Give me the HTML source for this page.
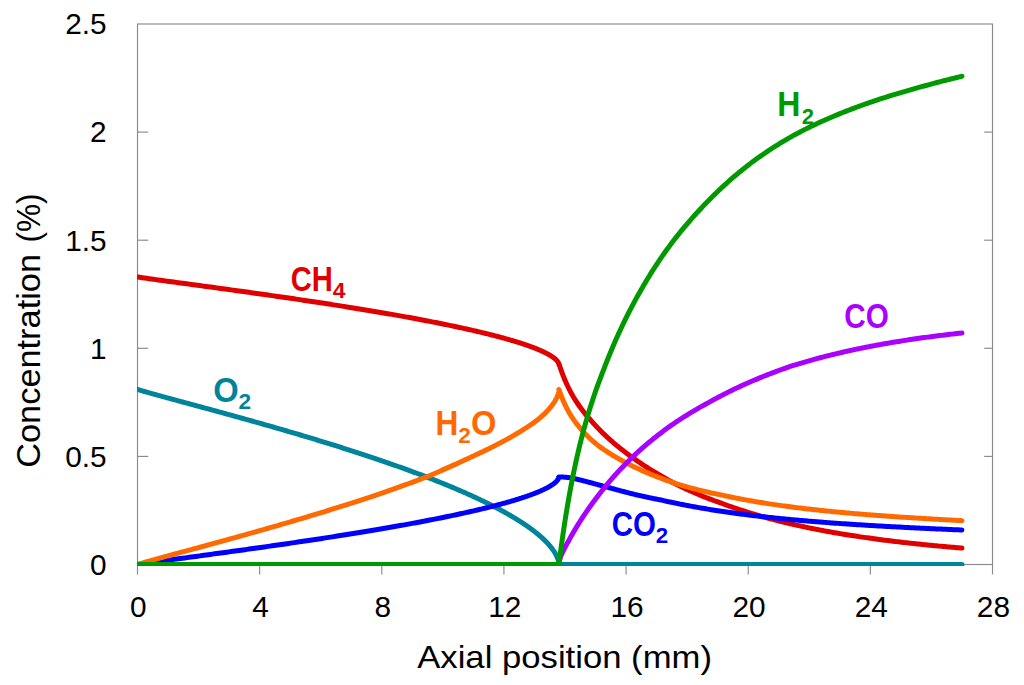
<!DOCTYPE html>
<html><head><meta charset="utf-8"><title>Concentration vs axial position</title>
<style>
html,body{margin:0;padding:0;background:#fff;}
body{width:1024px;height:685px;overflow:hidden;}
svg{display:block;}
text{font-family:"Liberation Sans",sans-serif;}
.tk{font-size:29.80px;fill:#000;}
.tt{font-size:31.30px;fill:#000;}
.ty{font-size:33.6px;fill:#000;}
.lb{font-size:30.70px;font-weight:bold;}
.sub{font-size:20.26px;font-weight:bold;}
</style></head><body>
<svg width="1024" height="685" viewBox="0 0 1024 685">
<rect width="1024" height="685" fill="#fff"/>

<g stroke="#8a8a8a" stroke-width="1.15" fill="none" shape-rendering="auto">
<rect x="137.5" y="24" width="855" height="540.5"/>
<line x1="137.50" y1="564.5" x2="137.50" y2="574.5"/>
<line x1="259.64" y1="564.5" x2="259.64" y2="574.5"/>
<line x1="381.79" y1="564.5" x2="381.79" y2="574.5"/>
<line x1="503.93" y1="564.5" x2="503.93" y2="574.5"/>
<line x1="626.08" y1="564.5" x2="626.08" y2="574.5"/>
<line x1="748.22" y1="564.5" x2="748.22" y2="574.5"/>
<line x1="870.36" y1="564.5" x2="870.36" y2="574.5"/>
<line x1="992.51" y1="564.5" x2="992.51" y2="574.5"/>
<line x1="137.5" y1="456.40" x2="148.2" y2="456.40"/>
<line x1="984.2" y1="456.40" x2="992.5" y2="456.40"/>
<line x1="137.5" y1="348.30" x2="148.2" y2="348.30"/>
<line x1="984.2" y1="348.30" x2="992.5" y2="348.30"/>
<line x1="137.5" y1="240.20" x2="148.2" y2="240.20"/>
<line x1="984.2" y1="240.20" x2="992.5" y2="240.20"/>
<line x1="137.5" y1="132.10" x2="148.2" y2="132.10"/>
<line x1="984.2" y1="132.10" x2="992.5" y2="132.10"/>
</g>
<defs><clipPath id="cp"><rect x="137" y="0" width="880" height="566"/></clipPath></defs>
<g fill="none" stroke-width="5" stroke-linecap="round" stroke-linejoin="round" clip-path="url(#cp)">
<path d="M137.50,276.95 L139.82,277.33 L142.13,277.68 L144.44,278.01 L146.74,278.34 L149.03,278.67 L151.32,278.99 L153.59,279.30 L155.86,279.62 L158.13,279.93 L160.39,280.24 L162.64,280.55 L164.88,280.86 L167.12,281.16 L169.35,281.46 L171.57,281.77 L173.78,282.07 L175.99,282.37 L178.19,282.66 L180.39,282.96 L182.58,283.26 L184.76,283.55 L186.93,283.85 L189.10,284.14 L191.26,284.43 L193.41,284.72 L195.56,285.02 L197.70,285.31 L199.83,285.59 L201.96,285.88 L204.08,286.17 L206.19,286.46 L208.29,286.74 L210.39,287.03 L212.48,287.32 L214.57,287.60 L216.65,287.88 L218.72,288.17 L220.78,288.45 L222.84,288.73 L224.89,289.01 L226.93,289.30 L228.97,289.58 L231.00,289.86 L233.02,290.14 L235.04,290.41 L237.05,290.69 L239.05,290.97 L241.04,291.25 L243.03,291.53 L245.01,291.80 L246.99,292.08 L248.96,292.35 L250.92,292.63 L252.87,292.90 L254.82,293.18 L256.76,293.45 L258.70,293.73 L260.63,294.00 L262.55,294.27 L264.46,294.54 L266.37,294.81 L268.27,295.09 L270.16,295.36 L272.05,295.63 L273.93,295.90 L275.80,296.17 L277.67,296.44 L279.53,296.70 L281.38,296.97 L283.23,297.24 L285.07,297.51 L286.90,297.78 L288.73,298.04 L290.55,298.31 L292.36,298.58 L294.17,298.84 L295.97,299.11 L297.76,299.37 L299.55,299.64 L301.33,299.90 L303.10,300.16 L304.87,300.43 L306.63,300.69 L308.38,300.95 L310.13,301.22 L311.87,301.48 L313.60,301.74 L315.33,302.00 L317.05,302.26 L318.76,302.52 L320.47,302.78 L322.17,303.04 L323.86,303.30 L325.55,303.56 L327.23,303.82 L328.90,304.08 L330.57,304.34 L332.23,304.60 L333.88,304.86 L335.53,305.11 L337.17,305.37 L338.80,305.63 L340.43,305.88 L342.05,306.14 L343.66,306.39 L345.27,306.65 L346.87,306.91 L348.46,307.16 L350.05,307.41 L351.63,307.67 L353.21,307.92 L354.77,308.18 L356.34,308.43 L357.89,308.68 L359.44,308.93 L360.98,309.19 L362.52,309.44 L364.04,309.69 L365.57,309.94 L367.08,310.19 L368.59,310.44 L370.09,310.69 L371.59,310.94 L373.08,311.19 L374.56,311.44 L376.04,311.69 L377.51,311.94 L378.98,312.19 L380.43,312.44 L381.88,312.68 L383.33,312.93 L384.77,313.18 L386.20,313.43 L387.62,313.67 L389.04,313.92 L390.45,314.16 L391.86,314.41 L393.26,314.65 L394.65,314.90 L396.04,315.14 L397.42,315.39 L398.79,315.63 L400.16,315.88 L401.52,316.12 L402.88,316.36 L404.22,316.61 L405.57,316.85 L406.90,317.09 L408.23,317.33 L409.55,317.57 L410.87,317.82 L412.18,318.06 L413.48,318.30 L414.78,318.54 L416.07,318.78 L417.36,319.02 L418.63,319.26 L419.91,319.49 L421.17,319.73 L422.43,319.97 L423.68,320.21 L424.93,320.45 L426.17,320.69 L427.40,320.92 L428.63,321.16 L429.85,321.40 L431.07,321.63 L432.28,321.87 L433.48,322.10 L434.68,322.34 L435.87,322.57 L437.05,322.81 L438.23,323.04 L439.40,323.28 L440.57,323.51 L441.73,323.74 L442.88,323.98 L444.02,324.21 L445.17,324.44 L446.30,324.67 L447.43,324.91 L448.55,325.14 L449.66,325.37 L450.77,325.60 L451.88,325.83 L452.97,326.06 L454.07,326.29 L455.15,326.52 L456.23,326.75 L457.30,326.98 L458.37,327.21 L459.43,327.43 L460.48,327.66 L461.53,327.89 L462.57,328.12 L463.61,328.34 L464.64,328.57 L465.66,328.80 L466.68,329.02 L467.69,329.25 L468.70,329.47 L469.69,329.70 L470.69,329.92 L471.67,330.15 L472.66,330.37 L473.63,330.60 L474.60,330.82 L475.56,331.04 L476.52,331.26 L477.47,331.49 L478.41,331.71 L479.35,331.93 L480.29,332.15 L481.21,332.37 L482.13,332.59 L483.05,332.81 L483.96,333.03 L484.86,333.25 L485.76,333.47 L486.65,333.69 L487.53,333.91 L488.41,334.13 L489.29,334.35 L490.15,334.56 L491.01,334.78 L491.87,335.00 L492.72,335.21 L493.56,335.43 L494.40,335.65 L495.23,335.86 L496.06,336.08 L496.88,336.29 L497.69,336.50 L498.50,336.72 L499.30,336.93 L500.10,337.15 L500.89,337.36 L501.67,337.57 L502.45,337.78 L503.23,337.99 L503.99,338.21 L504.76,338.42 L505.51,338.63 L506.26,338.84 L507.01,339.05 L507.74,339.26 L508.48,339.47 L509.20,339.67 L509.92,339.88 L510.64,340.09 L511.35,340.30 L512.05,340.51 L512.75,340.71 L513.44,340.92 L514.13,341.12 L514.81,341.33 L515.49,341.54 L516.16,341.74 L516.82,341.94 L517.48,342.15 L518.13,342.35 L518.78,342.56 L519.42,342.76 L520.06,342.96 L520.69,343.16 L521.31,343.36 L521.93,343.57 L522.54,343.77 L523.15,343.97 L523.75,344.17 L524.35,344.37 L524.94,344.57 L525.53,344.76 L526.11,344.96 L526.68,345.16 L527.25,345.36 L527.81,345.55 L528.37,345.75 L528.92,345.95 L529.47,346.14 L530.01,346.34 L530.55,346.53 L531.08,346.73 L531.60,346.92 L532.12,347.11 L532.64,347.31 L533.14,347.50 L533.65,347.69 L534.14,347.88 L534.64,348.07 L535.12,348.26 L535.61,348.45 L536.08,348.64 L536.55,348.83 L537.02,349.02 L537.48,349.21 L537.93,349.40 L538.38,349.58 L538.83,349.77 L539.27,349.96 L539.70,350.14 L540.13,350.33 L540.55,350.51 L540.97,350.70 L541.38,350.88 L541.79,351.06 L542.19,351.25 L542.59,351.43 L542.98,351.61 L543.37,351.79 L543.75,351.97 L544.12,352.15 L544.49,352.33 L544.86,352.51 L545.22,352.69 L545.58,352.87 L545.93,353.04 L546.27,353.22 L546.61,353.40 L546.95,353.57 L547.28,353.75 L547.60,353.92 L547.92,354.09 L548.24,354.27 L548.55,354.44 L548.85,354.61 L549.15,354.78 L549.45,354.95 L549.74,355.12 L550.02,355.29 L550.31,355.46 L550.58,355.63 L550.85,355.80 L551.12,355.96 L551.38,356.13 L551.63,356.29 L551.89,356.46 L552.13,356.62 L552.37,356.78 L552.61,356.95 L552.84,357.11 L553.07,357.27 L553.29,357.43 L553.51,357.59 L553.72,357.75 L553.93,357.91 L554.14,358.06 L554.33,358.22 L554.53,358.37 L554.72,358.53 L554.90,358.68 L555.08,358.84 L555.26,358.99 L555.43,359.14 L555.60,359.29 L555.76,359.44 L555.92,359.59 L556.07,359.74 L556.22,359.88 L556.37,360.03 L556.51,360.17 L556.64,360.32 L556.78,360.46 L556.90,360.60 L557.03,360.74 L557.15,360.88 L557.26,361.02 L557.37,361.16 L557.48,361.29 L557.58,361.43 L557.68,361.56 L557.77,361.70 L557.86,361.83 L557.95,361.96 L558.03,362.09 L558.11,362.21 L558.18,362.34 L558.25,362.46 L558.31,362.58 L558.38,362.71 L558.44,362.83 L558.49,362.94 L558.54,363.06 L558.59,363.17 L558.63,363.28 L558.67,363.39 L558.71,363.50 L558.74,363.61 L558.77,363.71 L558.80,363.81 L558.82,363.91 L558.84,364.00 L558.86,364.09 L558.87,364.18 L558.88,364.26 L558.89,364.34 L558.89,364.41 L558.90,364.47 L558.90,364.51 L558.94,363.57 L559.03,363.84 L559.14,364.20 L559.27,364.61 L559.42,365.08 L559.59,365.59 L559.77,366.15 L559.96,366.74 L560.17,367.35 L560.38,368.00 L560.61,368.68 L560.85,369.37 L561.10,370.09 L561.36,370.82 L561.63,371.57 L561.91,372.34 L562.19,373.12 L562.49,373.91 L562.79,374.71 L563.10,375.52 L563.42,376.34 L563.75,377.16 L564.09,377.99 L564.43,378.83 L564.78,379.67 L565.13,380.51 L565.50,381.36 L565.87,382.21 L566.24,383.05 L566.63,383.90 L567.02,384.75 L567.41,385.60 L567.82,386.44 L568.22,387.29 L568.64,388.13 L569.06,388.97 L569.49,389.81 L569.92,390.65 L570.36,391.48 L570.80,392.31 L571.25,393.14 L571.70,393.96 L572.16,394.78 L572.63,395.59 L573.10,396.40 L573.57,397.21 L574.06,398.01 L574.54,398.81 L575.03,399.60 L575.53,400.39 L576.03,401.17 L576.54,401.95 L577.05,402.73 L577.57,403.50 L578.09,404.27 L578.61,405.03 L579.14,405.79 L579.68,406.54 L580.22,407.29 L580.76,408.04 L581.31,408.78 L581.86,409.52 L582.42,410.25 L582.98,410.98 L583.55,411.71 L584.12,412.43 L584.70,413.15 L585.28,413.86 L585.86,414.57 L586.45,415.28 L587.04,415.99 L587.64,416.69 L588.24,417.39 L588.84,418.08 L589.45,418.77 L590.07,419.47 L590.68,420.18 L591.31,420.89 L591.93,421.60 L592.56,422.31 L593.19,423.02 L593.83,423.72 L594.47,424.42 L595.12,425.12 L595.76,425.82 L596.42,426.51 L597.07,427.20 L597.73,427.89 L598.40,428.58 L599.07,429.27 L599.74,429.95 L600.41,430.63 L601.09,431.31 L601.77,431.99 L602.46,432.67 L603.15,433.34 L603.84,434.01 L604.54,434.68 L605.24,435.35 L605.94,436.01 L606.65,436.67 L607.36,437.33 L608.08,437.99 L608.79,438.65 L609.51,439.30 L610.24,439.95 L610.97,440.60 L611.70,441.24 L612.43,441.88 L613.17,442.52 L613.91,443.16 L614.66,443.79 L615.41,444.42 L616.16,445.05 L616.92,445.68 L617.67,446.30 L618.44,446.91 L619.20,447.53 L619.97,448.14 L621.69,449.49 L623.41,450.82 L625.12,452.13 L626.84,453.43 L628.56,454.70 L630.28,455.96 L632.00,457.21 L633.72,458.43 L635.44,459.64 L637.15,460.83 L638.87,462.01 L640.59,463.18 L642.31,464.32 L644.03,465.46 L645.75,466.58 L647.47,467.68 L649.19,468.77 L650.90,469.85 L652.62,470.91 L654.34,471.96 L656.06,473.00 L657.78,474.02 L659.50,475.03 L661.22,476.03 L662.93,477.02 L664.65,477.99 L666.37,478.95 L668.09,479.90 L669.81,480.84 L671.53,481.76 L673.25,482.67 L674.96,483.57 L676.68,484.45 L678.40,485.32 L680.12,486.17 L681.84,487.01 L683.56,487.84 L685.28,488.65 L686.99,489.45 L688.71,490.24 L690.43,491.02 L692.15,491.78 L693.87,492.53 L695.59,493.27 L697.31,494.00 L699.02,494.72 L700.74,495.43 L702.46,496.12 L704.18,496.81 L705.90,497.49 L707.62,498.16 L709.34,498.81 L711.06,499.46 L712.77,500.10 L714.49,500.73 L716.21,501.35 L717.93,501.97 L719.65,502.57 L721.37,503.21 L723.09,503.85 L724.80,504.48 L726.52,505.11 L728.24,505.73 L729.96,506.34 L731.68,506.94 L733.40,507.54 L735.12,508.12 L736.83,508.71 L738.55,509.28 L740.27,509.85 L741.99,510.41 L743.71,510.97 L745.43,511.51 L747.15,512.05 L748.86,512.59 L750.58,513.12 L752.30,513.64 L754.02,514.16 L755.74,514.67 L757.46,515.17 L759.18,515.67 L760.89,516.16 L762.61,516.65 L764.33,517.13 L766.05,517.60 L767.77,518.07 L769.49,518.54 L771.21,519.00 L772.93,519.45 L774.64,519.90 L776.36,520.34 L778.08,520.78 L779.80,521.21 L781.52,521.64 L783.24,522.06 L784.96,522.48 L786.67,522.89 L788.39,523.30 L790.11,523.70 L791.83,524.10 L793.55,524.49 L795.27,524.88 L796.99,525.27 L798.70,525.65 L800.42,526.03 L802.14,526.40 L803.86,526.77 L805.58,527.13 L807.30,527.49 L809.02,527.84 L810.73,528.20 L812.45,528.54 L814.17,528.89 L815.89,529.23 L817.61,529.56 L819.33,529.89 L821.05,530.22 L822.76,530.55 L824.48,530.87 L826.20,531.19 L827.92,531.50 L829.64,531.81 L831.36,532.12 L833.08,532.42 L834.79,532.72 L836.51,533.02 L838.23,533.31 L839.95,533.60 L841.67,533.89 L843.39,534.17 L845.11,534.45 L846.83,534.73 L848.54,535.01 L850.26,535.28 L851.98,535.55 L853.70,535.81 L855.42,536.08 L857.14,536.34 L858.86,536.60 L860.57,536.85 L862.29,537.10 L864.01,537.35 L865.73,537.60 L867.45,537.84 L869.17,538.08 L870.89,538.32 L872.60,538.56 L874.32,538.79 L876.04,539.03 L877.76,539.25 L879.48,539.48 L881.20,539.71 L882.92,539.93 L884.63,540.15 L886.35,540.37 L888.07,540.58 L889.79,540.79 L891.51,541.00 L893.23,541.21 L894.95,541.42 L896.66,541.62 L898.38,541.83 L900.10,542.03 L901.82,542.23 L903.54,542.42 L905.26,542.62 L906.98,542.81 L908.70,543.00 L910.41,543.19 L912.13,543.38 L913.85,543.56 L915.57,543.74 L917.29,543.92 L919.01,544.10 L920.73,544.28 L922.44,544.46 L924.16,544.63 L925.88,544.81 L927.60,544.98 L929.32,545.15 L931.04,545.31 L932.76,545.48 L934.47,545.64 L936.19,545.81 L937.91,545.97 L939.63,546.13 L941.35,546.29 L943.07,546.45 L944.79,546.60 L946.50,546.76 L948.22,546.91 L949.94,547.06 L951.66,547.21 L953.38,547.36 L955.10,547.51 L956.82,547.65 L958.53,547.80 L960.25,547.94 L961.97,548.08" stroke="#e00000"/>
<path d="M137.50,389.38 L139.82,390.13 L142.13,390.82 L144.44,391.50 L146.74,392.16 L149.03,392.80 L151.32,393.44 L153.59,394.08 L155.86,394.71 L158.13,395.33 L160.39,395.95 L162.64,396.57 L164.88,397.18 L167.12,397.79 L169.35,398.40 L171.57,399.00 L173.78,399.60 L175.99,400.20 L178.19,400.80 L180.39,401.39 L182.58,401.99 L184.76,402.58 L186.93,403.16 L189.10,403.75 L191.26,404.34 L193.41,404.92 L195.56,405.50 L197.70,406.08 L199.83,406.66 L201.96,407.24 L204.08,407.81 L206.19,408.39 L208.29,408.96 L210.39,409.53 L212.48,410.10 L214.57,410.67 L216.65,411.24 L218.72,411.81 L220.78,412.37 L222.84,412.94 L224.89,413.50 L226.93,414.06 L228.97,414.62 L231.00,415.18 L233.02,415.74 L235.04,416.30 L237.05,416.86 L239.05,417.41 L241.04,417.97 L243.03,418.52 L245.01,419.07 L246.99,419.63 L248.96,420.18 L250.92,420.73 L252.87,421.28 L254.82,421.83 L256.76,422.37 L258.70,422.92 L260.63,423.47 L262.55,424.01 L264.46,424.56 L266.37,425.10 L268.27,425.64 L270.16,426.18 L272.05,426.72 L273.93,427.26 L275.80,427.80 L277.67,428.34 L279.53,428.88 L281.38,429.42 L283.23,429.95 L285.07,430.49 L286.90,431.02 L288.73,431.56 L290.55,432.09 L292.36,432.62 L294.17,433.15 L295.97,433.68 L297.76,434.21 L299.55,434.74 L301.33,435.27 L303.10,435.80 L304.87,436.33 L306.63,436.85 L308.38,437.38 L310.13,437.90 L311.87,438.43 L313.60,438.95 L315.33,439.47 L317.05,440.00 L318.76,440.52 L320.47,441.04 L322.17,441.56 L323.86,442.08 L325.55,442.60 L327.23,443.12 L328.90,443.63 L330.57,444.15 L332.23,444.67 L333.88,445.18 L335.53,445.70 L337.17,446.21 L338.80,446.72 L340.43,447.24 L342.05,447.75 L343.66,448.26 L345.27,448.77 L346.87,449.28 L348.46,449.79 L350.05,450.30 L351.63,450.81 L353.21,451.32 L354.77,451.82 L356.34,452.33 L357.89,452.83 L359.44,453.34 L360.98,453.84 L362.52,454.35 L364.04,454.85 L365.57,455.35 L367.08,455.85 L368.59,456.36 L370.09,456.86 L371.59,457.36 L373.08,457.86 L374.56,458.35 L376.04,458.85 L377.51,459.35 L378.98,459.85 L380.43,460.34 L381.88,460.84 L383.33,461.33 L384.77,461.83 L386.20,462.32 L387.62,462.81 L389.04,463.31 L390.45,463.80 L391.86,464.29 L393.26,464.78 L394.65,465.27 L396.04,465.76 L397.42,466.25 L398.79,466.74 L400.16,467.22 L401.52,467.71 L402.88,468.20 L404.22,468.68 L405.57,469.17 L406.90,469.65 L408.23,470.13 L409.55,470.62 L410.87,471.10 L412.18,471.58 L413.48,472.06 L414.78,472.54 L416.07,473.02 L417.36,473.50 L418.63,473.98 L419.91,474.46 L421.17,474.94 L422.43,475.41 L423.68,475.89 L424.93,476.37 L426.17,476.84 L427.40,477.32 L428.63,477.79 L429.85,478.26 L431.07,478.73 L432.28,479.21 L433.48,479.68 L434.68,480.15 L435.87,480.62 L437.05,481.09 L438.23,481.56 L439.40,482.02 L440.57,482.49 L441.73,482.96 L442.88,483.42 L444.02,483.89 L445.17,484.35 L446.30,484.82 L447.43,485.28 L448.55,485.75 L449.66,486.21 L450.77,486.67 L451.88,487.13 L452.97,487.59 L454.07,488.05 L455.15,488.51 L456.23,488.97 L457.30,489.43 L458.37,489.88 L459.43,490.34 L460.48,490.80 L461.53,491.25 L462.57,491.70 L463.61,492.16 L464.64,492.61 L465.66,493.06 L466.68,493.52 L467.69,493.97 L468.70,494.42 L469.69,494.87 L470.69,495.32 L471.67,495.77 L472.66,496.21 L473.63,496.66 L474.60,497.11 L475.56,497.55 L476.52,498.00 L477.47,498.44 L478.41,498.89 L479.35,499.33 L480.29,499.77 L481.21,500.22 L482.13,500.66 L483.05,501.10 L483.96,501.54 L484.86,501.98 L485.76,502.41 L486.65,502.85 L487.53,503.29 L488.41,503.73 L489.29,504.16 L490.15,504.60 L491.01,505.03 L491.87,505.46 L492.72,505.90 L493.56,506.33 L494.40,506.76 L495.23,507.19 L496.06,507.62 L496.88,508.05 L497.69,508.48 L498.50,508.91 L499.30,509.33 L500.10,509.76 L500.89,510.19 L501.67,510.61 L502.45,511.04 L503.23,511.46 L503.99,511.88 L504.76,512.30 L505.51,512.72 L506.26,513.14 L507.01,513.56 L507.74,513.98 L508.48,514.40 L509.20,514.82 L509.92,515.24 L510.64,515.65 L511.35,516.07 L512.05,516.48 L512.75,516.89 L513.44,517.31 L514.13,517.72 L514.81,518.13 L515.49,518.54 L516.16,518.95 L516.82,519.36 L517.48,519.77 L518.13,520.18 L518.78,520.58 L519.42,520.99 L520.06,521.39 L520.69,521.80 L521.31,522.20 L521.93,522.60 L522.54,523.00 L523.15,523.40 L523.75,523.80 L524.35,524.20 L524.94,524.60 L525.53,525.00 L526.11,525.39 L526.68,525.79 L527.25,526.18 L527.81,526.58 L528.37,526.97 L528.92,527.36 L529.47,527.75 L530.01,528.15 L530.55,528.53 L531.08,528.92 L531.60,529.31 L532.12,529.70 L532.64,530.08 L533.14,530.47 L533.65,530.85 L534.14,531.24 L534.64,531.62 L535.12,532.00 L535.61,532.38 L536.08,532.76 L536.55,533.14 L537.02,533.51 L537.48,533.89 L537.93,534.27 L538.38,534.64 L538.83,535.01 L539.27,535.39 L539.70,535.76 L540.13,536.13 L540.55,536.50 L540.97,536.87 L541.38,537.23 L541.79,537.60 L542.19,537.96 L542.59,538.33 L542.98,538.69 L543.37,539.05 L543.75,539.41 L544.12,539.77 L544.49,540.13 L544.86,540.49 L545.22,540.85 L545.58,541.20 L545.93,541.56 L546.27,541.91 L546.61,542.26 L546.95,542.61 L547.28,542.96 L547.60,543.31 L547.92,543.66 L548.24,544.00 L548.55,544.35 L548.85,544.69 L549.15,545.03 L549.45,545.37 L549.74,545.71 L550.02,546.05 L550.31,546.39 L550.58,546.73 L550.85,547.06 L551.12,547.39 L551.38,547.73 L551.63,548.06 L551.89,548.39 L552.13,548.71 L552.37,549.04 L552.61,549.36 L552.84,549.69 L553.07,550.01 L553.29,550.33 L553.51,550.65 L553.72,550.97 L553.93,551.28 L554.14,551.60 L554.33,551.91 L554.53,552.22 L554.72,552.53 L554.90,552.84 L555.08,553.14 L555.26,553.45 L555.43,553.75 L555.60,554.05 L555.76,554.35 L555.92,554.65 L556.07,554.94 L556.22,555.24 L556.37,555.53 L556.51,555.82 L556.64,556.10 L556.78,556.39 L556.90,556.67 L557.03,556.96 L557.15,557.23 L557.26,557.51 L557.37,557.79 L557.48,558.06 L557.58,558.33 L557.68,558.60 L557.77,558.86 L557.86,559.12 L557.95,559.38 L558.03,559.64 L558.11,559.89 L558.18,560.15 L558.25,560.39 L558.31,560.64 L558.38,560.88 L558.44,561.12 L558.49,561.36 L558.54,561.59 L558.59,561.82 L558.63,562.04 L558.67,562.26 L558.71,562.47 L558.74,562.69 L558.77,562.89 L558.80,563.09 L558.82,563.29 L558.84,563.47 L558.86,563.66 L558.87,563.83 L558.88,563.99 L558.89,564.15 L558.89,564.29 L558.90,564.41 L558.90,564.50 L961.97,564.50" stroke="#00849c"/>
<path d="M137.50,564.50 L139.82,564.12 L142.13,563.78 L144.44,563.44 L146.74,563.11 L149.03,562.79 L151.32,562.47 L153.59,562.15 L155.86,561.83 L158.13,561.52 L160.39,561.21 L162.64,560.90 L164.88,560.60 L167.12,560.29 L169.35,559.99 L171.57,559.69 L173.78,559.39 L175.99,559.09 L178.19,558.79 L180.39,558.49 L182.58,558.20 L184.76,557.90 L186.93,557.61 L189.10,557.31 L191.26,557.02 L193.41,556.73 L195.56,556.44 L197.70,556.15 L199.83,555.86 L201.96,555.57 L204.08,555.28 L206.19,555.00 L208.29,554.71 L210.39,554.42 L212.48,554.14 L214.57,553.85 L216.65,553.57 L218.72,553.29 L220.78,553.00 L222.84,552.72 L224.89,552.44 L226.93,552.16 L228.97,551.88 L231.00,551.60 L233.02,551.32 L235.04,551.04 L237.05,550.76 L239.05,550.48 L241.04,550.21 L243.03,549.93 L245.01,549.65 L246.99,549.38 L248.96,549.10 L250.92,548.82 L252.87,548.55 L254.82,548.28 L256.76,548.00 L258.70,547.73 L260.63,547.46 L262.55,547.18 L264.46,546.91 L266.37,546.64 L268.27,546.37 L270.16,546.10 L272.05,545.83 L273.93,545.56 L275.80,545.29 L277.67,545.02 L279.53,544.75 L281.38,544.48 L283.23,544.21 L285.07,543.95 L286.90,543.68 L288.73,543.41 L290.55,543.14 L292.36,542.88 L294.17,542.61 L295.97,542.35 L297.76,542.08 L299.55,541.82 L301.33,541.55 L303.10,541.29 L304.87,541.03 L306.63,540.76 L308.38,540.50 L310.13,540.24 L311.87,539.98 L313.60,539.71 L315.33,539.45 L317.05,539.19 L318.76,538.93 L320.47,538.67 L322.17,538.41 L323.86,538.15 L325.55,537.89 L327.23,537.63 L328.90,537.37 L330.57,537.11 L332.23,536.86 L333.88,536.60 L335.53,536.34 L337.17,536.08 L338.80,535.83 L340.43,535.57 L342.05,535.31 L343.66,535.06 L345.27,534.80 L346.87,534.55 L348.46,534.29 L350.05,534.04 L351.63,533.79 L353.21,533.53 L354.77,533.28 L356.34,533.02 L357.89,532.77 L359.44,532.52 L360.98,532.27 L362.52,532.02 L364.04,531.76 L365.57,531.51 L367.08,531.26 L368.59,531.01 L370.09,530.76 L371.59,530.51 L373.08,530.26 L374.56,530.01 L376.04,529.76 L377.51,529.51 L378.98,529.27 L380.43,529.02 L381.88,528.77 L383.33,528.52 L384.77,528.28 L386.20,528.03 L387.62,527.78 L389.04,527.54 L390.45,527.29 L391.86,527.04 L393.26,526.80 L394.65,526.55 L396.04,526.31 L397.42,526.07 L398.79,525.82 L400.16,525.58 L401.52,525.33 L402.88,525.09 L404.22,524.85 L405.57,524.61 L406.90,524.36 L408.23,524.12 L409.55,523.88 L410.87,523.64 L412.18,523.40 L413.48,523.16 L414.78,522.92 L416.07,522.68 L417.36,522.44 L418.63,522.20 L419.91,521.96 L421.17,521.72 L422.43,521.48 L423.68,521.24 L424.93,521.01 L426.17,520.77 L427.40,520.53 L428.63,520.29 L429.85,520.06 L431.07,519.82 L432.28,519.59 L433.48,519.35 L434.68,519.12 L435.87,518.88 L437.05,518.65 L438.23,518.41 L439.40,518.18 L440.57,517.94 L441.73,517.71 L442.88,517.48 L444.02,517.24 L445.17,517.01 L446.30,516.78 L447.43,516.55 L448.55,516.32 L449.66,516.09 L450.77,515.85 L451.88,515.62 L452.97,515.39 L454.07,515.16 L455.15,514.93 L456.23,514.71 L457.30,514.48 L458.37,514.25 L459.43,514.02 L460.48,513.79 L461.53,513.56 L462.57,513.34 L463.61,513.11 L464.64,512.88 L465.66,512.66 L466.68,512.43 L467.69,512.21 L468.70,511.98 L469.69,511.75 L470.69,511.53 L471.67,511.31 L472.66,511.08 L473.63,510.86 L474.60,510.63 L475.56,510.41 L476.52,510.19 L477.47,509.97 L478.41,509.75 L479.35,509.52 L480.29,509.30 L481.21,509.08 L482.13,508.86 L483.05,508.64 L483.96,508.42 L484.86,508.20 L485.76,507.98 L486.65,507.76 L487.53,507.54 L488.41,507.33 L489.29,507.11 L490.15,506.89 L491.01,506.67 L491.87,506.46 L492.72,506.24 L493.56,506.02 L494.40,505.81 L495.23,505.59 L496.06,505.38 L496.88,505.16 L497.69,504.95 L498.50,504.74 L499.30,504.52 L500.10,504.31 L500.89,504.10 L501.67,503.88 L502.45,503.67 L503.23,503.46 L503.99,503.25 L504.76,503.04 L505.51,502.83 L506.26,502.62 L507.01,502.41 L507.74,502.20 L508.48,501.99 L509.20,501.78 L509.92,501.57 L510.64,501.36 L511.35,501.16 L512.05,500.95 L512.75,500.74 L513.44,500.54 L514.13,500.33 L514.81,500.12 L515.49,499.92 L516.16,499.71 L516.82,499.51 L517.48,499.31 L518.13,499.10 L518.78,498.90 L519.42,498.70 L520.06,498.49 L520.69,498.29 L521.31,498.09 L521.93,497.89 L522.54,497.69 L523.15,497.49 L523.75,497.29 L524.35,497.09 L524.94,496.89 L525.53,496.69 L526.11,496.49 L526.68,496.29 L527.25,496.10 L527.81,495.90 L528.37,495.70 L528.92,495.51 L529.47,495.31 L530.01,495.12 L530.55,494.92 L531.08,494.73 L531.60,494.53 L532.12,494.34 L532.64,494.15 L533.14,493.95 L533.65,493.76 L534.14,493.57 L534.64,493.38 L535.12,493.19 L535.61,493.00 L536.08,492.81 L536.55,492.62 L537.02,492.43 L537.48,492.24 L537.93,492.06 L538.38,491.87 L538.83,491.68 L539.27,491.50 L539.70,491.31 L540.13,491.13 L540.55,490.94 L540.97,490.76 L541.38,490.57 L541.79,490.39 L542.19,490.21 L542.59,490.03 L542.98,489.84 L543.37,489.66 L543.75,489.48 L544.12,489.30 L544.49,489.12 L544.86,488.94 L545.22,488.77 L545.58,488.59 L545.93,488.41 L546.27,488.23 L546.61,488.06 L546.95,487.88 L547.28,487.71 L547.60,487.53 L547.92,487.36 L548.24,487.19 L548.55,487.02 L548.85,486.84 L549.15,486.67 L549.45,486.50 L549.74,486.33 L550.02,486.16 L550.31,485.99 L550.58,485.83 L550.85,485.66 L551.12,485.49 L551.38,485.33 L551.63,485.16 L551.89,485.00 L552.13,484.83 L552.37,484.67 L552.61,484.51 L552.84,484.35 L553.07,484.18 L553.29,484.02 L553.51,483.86 L553.72,483.71 L553.93,483.55 L554.14,483.39 L554.33,483.23 L554.53,483.08 L554.72,482.92 L554.90,482.77 L555.08,482.62 L555.26,482.47 L555.43,482.31 L555.60,482.16 L555.76,482.01 L555.92,481.87 L556.07,481.72 L556.22,481.57 L556.37,481.43 L556.51,481.28 L556.64,481.14 L556.78,480.99 L556.90,480.85 L557.03,480.71 L557.15,480.57 L557.26,480.43 L557.37,480.30 L557.48,480.16 L557.58,480.02 L557.68,479.89 L557.77,479.76 L557.86,479.63 L557.95,479.50 L558.03,479.37 L558.11,479.24 L558.18,479.12 L558.25,478.99 L558.31,478.87 L558.38,478.75 L558.44,478.63 L558.49,478.51 L558.54,478.40 L558.59,478.28 L558.63,478.17 L558.67,478.06 L558.71,477.95 L558.74,477.85 L558.77,477.74 L558.80,477.64 L558.82,477.55 L558.84,477.45 L558.86,477.36 L558.87,477.27 L558.88,477.19 L558.89,477.11 L558.89,477.04 L558.90,476.98 L558.90,476.94 L558.94,476.94 L559.03,476.94 L559.14,476.94 L559.27,476.94 L559.42,476.94 L559.59,476.94 L559.77,476.95 L559.96,476.95 L560.17,476.95 L560.38,476.96 L560.61,476.97 L560.85,476.97 L561.10,476.98 L561.36,476.99 L561.63,477.00 L561.91,477.01 L562.19,477.03 L562.49,477.04 L562.79,477.06 L563.10,477.07 L563.42,477.09 L563.75,477.12 L564.09,477.14 L564.43,477.16 L564.78,477.19 L565.13,477.22 L565.50,477.25 L565.87,477.28 L566.24,477.32 L566.63,477.35 L567.02,477.39 L567.41,477.44 L567.82,477.48 L568.22,477.52 L568.64,477.57 L569.06,477.62 L569.49,477.68 L569.92,477.73 L570.36,477.81 L570.80,477.89 L571.25,477.98 L571.70,478.07 L572.16,478.16 L572.63,478.25 L573.10,478.35 L573.57,478.45 L574.06,478.55 L574.54,478.66 L575.03,478.77 L575.53,478.88 L576.03,478.99 L576.54,479.10 L577.05,479.22 L577.57,479.34 L578.09,479.46 L578.61,479.59 L579.14,479.72 L579.68,479.85 L580.22,479.98 L580.76,480.11 L581.31,480.25 L581.86,480.39 L582.42,480.53 L582.98,480.67 L583.55,480.82 L584.12,480.97 L584.70,481.12 L585.28,481.27 L585.86,481.42 L586.45,481.58 L587.04,481.73 L587.64,481.89 L588.24,482.05 L588.84,482.21 L589.45,482.38 L590.07,482.54 L590.68,482.71 L591.31,482.88 L591.93,483.04 L592.56,483.21 L593.19,483.39 L593.83,483.56 L594.47,483.73 L595.12,483.90 L595.76,484.08 L596.42,484.25 L597.07,484.43 L597.73,484.61 L598.40,484.79 L599.07,484.96 L599.74,485.14 L600.41,485.32 L601.09,485.50 L601.77,485.68 L602.46,485.86 L603.15,486.05 L603.84,486.23 L604.54,486.42 L605.24,486.61 L605.94,486.80 L606.65,486.99 L607.36,487.19 L608.08,487.38 L608.79,487.57 L609.51,487.77 L610.24,487.97 L610.97,488.17 L611.70,488.37 L612.43,488.57 L613.17,488.77 L613.91,488.97 L614.66,489.17 L615.41,489.38 L616.16,489.58 L616.92,489.79 L617.67,490.00 L618.44,490.20 L619.20,490.41 L619.97,490.62 L621.69,491.09 L623.41,491.54 L625.12,492.00 L626.84,492.44 L628.56,492.88 L630.28,493.31 L632.00,493.74 L633.72,494.15 L635.44,494.57 L637.15,494.97 L638.87,495.37 L640.59,495.76 L642.31,496.15 L644.03,496.53 L645.75,496.90 L647.47,497.27 L649.19,497.63 L650.90,497.99 L652.62,498.33 L654.34,498.68 L656.06,499.01 L657.78,499.35 L659.50,499.67 L661.22,500.04 L662.93,500.43 L664.65,500.82 L666.37,501.20 L668.09,501.57 L669.81,501.94 L671.53,502.31 L673.25,502.67 L674.96,503.03 L676.68,503.39 L678.40,503.74 L680.12,504.09 L681.84,504.43 L683.56,504.77 L685.28,505.11 L686.99,505.44 L688.71,505.77 L690.43,506.09 L692.15,506.41 L693.87,506.72 L695.59,507.04 L697.31,507.34 L699.02,507.65 L700.74,507.95 L702.46,508.25 L704.18,508.54 L705.90,508.83 L707.62,509.12 L709.34,509.40 L711.06,509.68 L712.77,509.96 L714.49,510.23 L716.21,510.50 L717.93,510.76 L719.65,511.03 L721.37,511.29 L723.09,511.54 L724.80,511.80 L726.52,512.05 L728.24,512.29 L729.96,512.54 L731.68,512.78 L733.40,513.02 L735.12,513.25 L736.83,513.49 L738.55,513.72 L740.27,513.94 L741.99,514.17 L743.71,514.39 L745.43,514.61 L747.15,514.82 L748.86,515.04 L750.58,515.25 L752.30,515.46 L754.02,515.66 L755.74,515.87 L757.46,516.07 L759.18,516.27 L760.89,516.46 L762.61,516.66 L764.33,516.85 L766.05,517.04 L767.77,517.23 L769.49,517.41 L771.21,517.59 L772.93,517.77 L774.64,517.95 L776.36,518.13 L778.08,518.31 L779.80,518.48 L781.52,518.65 L783.24,518.82 L784.96,518.99 L786.67,519.15 L788.39,519.32 L790.11,519.48 L791.83,519.64 L793.55,519.80 L795.27,519.95 L796.99,520.11 L798.70,520.26 L800.42,520.41 L802.14,520.56 L803.86,520.71 L805.58,520.86 L807.30,521.00 L809.02,521.15 L810.73,521.29 L812.45,521.43 L814.17,521.57 L815.89,521.71 L817.61,521.84 L819.33,521.98 L821.05,522.11 L822.76,522.24 L824.48,522.37 L826.20,522.50 L827.92,522.63 L829.64,522.76 L831.36,522.89 L833.08,523.01 L834.79,523.14 L836.51,523.26 L838.23,523.38 L839.95,523.50 L841.67,523.62 L843.39,523.74 L845.11,523.85 L846.83,523.97 L848.54,524.08 L850.26,524.20 L851.98,524.31 L853.70,524.42 L855.42,524.53 L857.14,524.64 L858.86,524.75 L860.57,524.86 L862.29,524.97 L864.01,525.07 L865.73,525.18 L867.45,525.28 L869.17,525.39 L870.89,525.49 L872.60,525.59 L874.32,525.69 L876.04,525.79 L877.76,525.89 L879.48,525.99 L881.20,526.09 L882.92,526.18 L884.63,526.28 L886.35,526.38 L888.07,526.47 L889.79,526.57 L891.51,526.66 L893.23,526.75 L894.95,526.84 L896.66,526.94 L898.38,527.03 L900.10,527.12 L901.82,527.21 L903.54,527.30 L905.26,527.38 L906.98,527.47 L908.70,527.56 L910.41,527.64 L912.13,527.73 L913.85,527.82 L915.57,527.90 L917.29,527.98 L919.01,528.07 L920.73,528.15 L922.44,528.23 L924.16,528.32 L925.88,528.40 L927.60,528.48 L929.32,528.56 L931.04,528.64 L932.76,528.72 L934.47,528.80 L936.19,528.88 L937.91,528.96 L939.63,529.03 L941.35,529.11 L943.07,529.19 L944.79,529.27 L946.50,529.34 L948.22,529.42 L949.94,529.49 L951.66,529.57 L953.38,529.64 L955.10,529.72 L956.82,529.79 L958.53,529.86 L960.25,529.94 L961.97,530.01" stroke="#0000ff"/>
<path d="M137.50,564.50 L139.82,563.75 L142.13,563.05 L144.44,562.38 L146.74,561.72 L149.03,561.07 L151.32,560.43 L153.59,559.80 L155.86,559.17 L158.13,558.55 L160.39,557.93 L162.64,557.31 L164.88,556.70 L167.12,556.09 L169.35,555.48 L171.57,554.88 L173.78,554.27 L175.99,553.68 L178.19,553.08 L180.39,552.48 L182.58,551.89 L184.76,551.30 L186.93,550.71 L189.10,550.13 L191.26,549.54 L193.41,548.96 L195.56,548.38 L197.70,547.80 L199.83,547.22 L201.96,546.64 L204.08,546.07 L206.19,545.49 L208.29,544.92 L210.39,544.35 L212.48,543.78 L214.57,543.21 L216.65,542.64 L218.72,542.07 L220.78,541.51 L222.84,540.94 L224.89,540.38 L226.93,539.82 L228.97,539.26 L231.00,538.70 L233.02,538.14 L235.04,537.58 L237.05,537.02 L239.05,536.47 L241.04,535.91 L243.03,535.36 L245.01,534.80 L246.99,534.25 L248.96,533.70 L250.92,533.15 L252.87,532.60 L254.82,532.05 L256.76,531.50 L258.70,530.96 L260.63,530.41 L262.55,529.87 L264.46,529.32 L266.37,528.78 L268.27,528.24 L270.16,527.70 L272.05,527.15 L273.93,526.61 L275.80,526.08 L277.67,525.54 L279.53,525.00 L281.38,524.46 L283.23,523.93 L285.07,523.39 L286.90,522.86 L288.73,522.32 L290.55,521.79 L292.36,521.26 L294.17,520.73 L295.97,520.19 L297.76,519.66 L299.55,519.14 L301.33,518.61 L303.10,518.08 L304.87,517.55 L306.63,517.03 L308.38,516.50 L310.13,515.97 L311.87,515.45 L313.60,514.93 L315.33,514.40 L317.05,513.88 L318.76,513.36 L320.47,512.84 L322.17,512.32 L323.86,511.80 L325.55,511.28 L327.23,510.76 L328.90,510.25 L330.57,509.73 L332.23,509.21 L333.88,508.70 L335.53,508.18 L337.17,507.67 L338.80,507.15 L340.43,506.64 L342.05,506.13 L343.66,505.62 L345.27,505.11 L346.87,504.60 L348.46,504.09 L350.05,503.58 L351.63,503.07 L353.21,502.56 L354.77,502.06 L356.34,501.55 L357.89,501.04 L359.44,500.54 L360.98,500.03 L362.52,499.53 L364.04,499.03 L365.57,498.53 L367.08,498.02 L368.59,497.52 L370.09,497.02 L371.59,496.52 L373.08,496.02 L374.56,495.52 L376.04,495.03 L377.51,494.53 L378.98,494.03 L380.43,493.54 L381.88,493.04 L383.33,492.54 L384.77,492.05 L386.20,491.56 L387.62,491.06 L389.04,490.57 L390.45,490.08 L391.86,489.59 L393.26,489.10 L394.65,488.61 L396.04,488.12 L397.42,487.63 L398.79,487.14 L400.16,486.65 L401.52,486.17 L402.88,485.68 L404.22,485.20 L405.57,484.71 L406.90,484.23 L408.23,483.74 L409.55,483.26 L410.87,482.78 L412.18,482.30 L413.48,481.81 L414.78,481.33 L416.07,480.85 L417.36,480.38 L418.63,479.90 L419.91,479.42 L421.17,478.94 L422.43,478.46 L423.68,477.99 L424.93,477.51 L426.17,477.04 L427.40,476.56 L428.63,476.09 L429.85,475.62 L431.07,475.09 L432.28,474.56 L433.48,474.04 L434.68,473.51 L435.87,472.99 L437.05,472.47 L438.23,471.95 L439.40,471.43 L440.57,470.92 L441.73,470.41 L442.88,469.89 L444.02,469.39 L445.17,468.88 L446.30,468.37 L447.43,467.87 L448.55,467.37 L449.66,466.87 L450.77,466.37 L451.88,465.87 L452.97,465.38 L454.07,464.89 L455.15,464.40 L456.23,463.91 L457.30,463.43 L458.37,462.94 L459.43,462.46 L460.48,461.98 L461.53,461.50 L462.57,461.03 L463.61,460.56 L464.64,460.08 L465.66,459.61 L466.68,459.15 L467.69,458.68 L468.70,458.22 L469.69,457.76 L470.69,457.30 L471.67,456.84 L472.66,456.38 L473.63,455.93 L474.60,455.48 L475.56,455.03 L476.52,454.58 L477.47,454.13 L478.41,453.69 L479.35,453.25 L480.29,452.81 L481.21,452.37 L482.13,451.93 L483.05,451.49 L483.96,451.05 L484.86,450.62 L485.76,450.18 L486.65,449.75 L487.53,449.32 L488.41,448.89 L489.29,448.46 L490.15,448.03 L491.01,447.60 L491.87,447.18 L492.72,446.75 L493.56,446.33 L494.40,445.91 L495.23,445.48 L496.06,445.06 L496.88,444.64 L497.69,444.22 L498.50,443.80 L499.30,443.39 L500.10,442.97 L500.89,442.55 L501.67,442.14 L502.45,441.73 L503.23,441.31 L503.99,440.90 L504.76,440.49 L505.51,440.08 L506.26,439.67 L507.01,439.26 L507.74,438.85 L508.48,438.44 L509.20,438.04 L509.92,437.63 L510.64,437.23 L511.35,436.82 L512.05,436.42 L512.75,436.02 L513.44,435.61 L514.13,435.21 L514.81,434.81 L515.49,434.41 L516.16,434.01 L516.82,433.62 L517.48,433.22 L518.13,432.82 L518.78,432.43 L519.42,432.04 L520.06,431.65 L520.69,431.27 L521.31,430.89 L521.93,430.50 L522.54,430.12 L523.15,429.75 L523.75,429.37 L524.35,428.99 L524.94,428.62 L525.53,428.25 L526.11,427.87 L526.68,427.50 L527.25,427.13 L527.81,426.76 L528.37,426.40 L528.92,426.03 L529.47,425.66 L530.01,425.29 L530.55,424.93 L531.08,424.56 L531.60,424.20 L532.12,423.84 L532.64,423.47 L533.14,423.11 L533.65,422.75 L534.14,422.38 L534.64,422.02 L535.12,421.66 L535.61,421.30 L536.08,420.94 L536.55,420.57 L537.02,420.21 L537.48,419.85 L537.93,419.49 L538.38,419.13 L538.83,418.77 L539.27,418.41 L539.70,418.05 L540.13,417.69 L540.55,417.33 L540.97,416.97 L541.38,416.61 L541.79,416.25 L542.19,415.89 L542.59,415.53 L542.98,415.18 L543.37,414.82 L543.75,414.46 L544.12,414.10 L544.49,413.74 L544.86,413.39 L545.22,413.03 L545.58,412.68 L545.93,412.32 L546.27,411.97 L546.61,411.62 L546.95,411.27 L547.28,410.92 L547.60,410.57 L547.92,410.22 L548.24,409.87 L548.55,409.53 L548.85,409.19 L549.15,408.84 L549.45,408.50 L549.74,408.16 L550.02,407.83 L550.31,407.49 L550.58,407.15 L550.85,406.82 L551.12,406.48 L551.38,406.15 L551.63,405.82 L551.89,405.49 L552.13,405.17 L552.37,404.84 L552.61,404.51 L552.84,404.19 L553.07,403.87 L553.29,403.55 L553.51,403.23 L553.72,402.91 L553.93,402.60 L554.14,402.28 L554.33,401.97 L554.53,401.66 L554.72,401.35 L554.90,401.04 L555.08,400.74 L555.26,400.43 L555.43,400.13 L555.60,399.83 L555.76,399.53 L555.92,399.23 L556.07,398.94 L556.22,398.64 L556.37,398.35 L556.51,398.06 L556.64,397.77 L556.78,397.49 L556.90,397.20 L557.03,396.92 L557.15,396.64 L557.26,396.37 L557.37,396.09 L557.48,395.82 L557.58,395.55 L557.68,395.28 L557.77,395.02 L557.86,394.75 L557.95,394.49 L558.03,394.24 L558.11,393.98 L558.18,393.73 L558.25,393.48 L558.31,393.24 L558.38,393.00 L558.44,392.76 L558.49,392.52 L558.54,392.29 L558.59,392.06 L558.63,391.84 L558.67,391.62 L558.71,391.40 L558.74,391.19 L558.77,390.99 L558.80,390.79 L558.82,390.59 L558.84,390.40 L558.86,390.22 L558.87,390.05 L558.88,389.88 L558.89,389.73 L558.89,389.59 L558.90,389.47 L558.90,389.38 L558.94,389.52 L559.03,389.77 L559.14,390.09 L559.27,390.47 L559.42,390.90 L559.59,391.37 L559.77,391.88 L559.96,392.41 L560.17,392.98 L560.38,393.57 L560.61,394.19 L560.85,394.82 L561.10,395.47 L561.36,396.14 L561.63,396.82 L561.91,397.52 L562.19,398.23 L562.49,398.95 L562.79,399.67 L563.10,400.40 L563.42,401.14 L563.75,401.89 L564.09,402.64 L564.43,403.39 L564.78,404.14 L565.13,404.90 L565.50,405.66 L565.87,406.42 L566.24,407.17 L566.63,407.93 L567.02,408.69 L567.41,409.44 L567.82,410.19 L568.22,410.94 L568.64,411.68 L569.06,412.42 L569.49,413.16 L569.92,413.90 L570.36,414.62 L570.80,415.35 L571.25,416.07 L571.70,416.78 L572.16,417.49 L572.63,418.20 L573.10,418.90 L573.57,419.59 L574.06,420.28 L574.54,420.96 L575.03,421.64 L575.53,422.32 L576.03,422.99 L576.54,423.65 L577.05,424.32 L577.57,424.97 L578.09,425.63 L578.61,426.28 L579.14,426.93 L579.68,427.58 L580.22,428.22 L580.76,428.86 L581.31,429.50 L581.86,430.13 L582.42,430.76 L582.98,431.38 L583.55,432.00 L584.12,432.62 L584.70,433.24 L585.28,433.85 L585.86,434.45 L586.45,435.05 L587.04,435.65 L587.64,436.25 L588.24,436.84 L588.84,437.43 L589.45,438.01 L590.07,438.59 L590.68,439.16 L591.31,439.73 L591.93,440.29 L592.56,440.85 L593.19,441.41 L593.83,441.96 L594.47,442.50 L595.12,443.04 L595.76,443.58 L596.42,444.10 L597.07,444.63 L597.73,445.14 L598.40,445.65 L599.07,446.16 L599.74,446.65 L600.41,447.14 L601.09,447.63 L601.77,448.12 L602.46,448.60 L603.15,449.08 L603.84,449.55 L604.54,450.03 L605.24,450.50 L605.94,450.97 L606.65,451.44 L607.36,451.90 L608.08,452.37 L608.79,452.83 L609.51,453.29 L610.24,453.74 L610.97,454.20 L611.70,454.65 L612.43,455.10 L613.17,455.55 L613.91,456.00 L614.66,456.44 L615.41,456.88 L616.16,457.32 L616.92,457.76 L617.67,458.20 L618.44,458.63 L619.20,459.07 L619.97,459.50 L621.69,460.45 L623.41,461.38 L625.12,462.30 L626.84,463.20 L628.56,464.09 L630.28,464.96 L632.00,465.81 L633.72,466.65 L635.44,467.48 L637.15,468.29 L638.87,469.09 L640.59,469.88 L642.31,470.65 L644.03,471.42 L645.75,472.17 L647.47,472.90 L649.19,473.63 L650.90,474.34 L652.62,475.05 L654.34,475.74 L656.06,476.42 L657.78,477.09 L659.50,477.75 L661.22,478.40 L662.93,479.04 L664.65,479.67 L666.37,480.30 L668.09,480.91 L669.81,481.51 L671.53,482.10 L673.25,482.68 L674.96,483.25 L676.68,483.80 L678.40,484.35 L680.12,484.88 L681.84,485.40 L683.56,485.91 L685.28,486.41 L686.99,486.90 L688.71,487.38 L690.43,487.85 L692.15,488.31 L693.87,488.76 L695.59,489.20 L697.31,489.63 L699.02,490.06 L700.74,490.47 L702.46,490.88 L704.18,491.28 L705.90,491.68 L707.62,492.06 L709.34,492.44 L711.06,492.82 L712.77,493.18 L714.49,493.54 L716.21,493.90 L717.93,494.25 L719.65,494.59 L721.37,494.97 L723.09,495.35 L724.80,495.73 L726.52,496.10 L728.24,496.46 L729.96,496.82 L731.68,497.18 L733.40,497.53 L735.12,497.87 L736.83,498.21 L738.55,498.55 L740.27,498.88 L741.99,499.21 L743.71,499.53 L745.43,499.85 L747.15,500.16 L748.86,500.47 L750.58,500.78 L752.30,501.08 L754.02,501.37 L755.74,501.67 L757.46,501.96 L759.18,502.24 L760.89,502.52 L762.61,502.80 L764.33,503.07 L766.05,503.35 L767.77,503.61 L769.49,503.88 L771.21,504.14 L772.93,504.39 L774.64,504.65 L776.36,504.90 L778.08,505.14 L779.80,505.39 L781.52,505.63 L783.24,505.87 L784.96,506.10 L786.67,506.33 L788.39,506.56 L790.11,506.79 L791.83,507.01 L793.55,507.23 L795.27,507.45 L796.99,507.66 L798.70,507.87 L800.42,508.08 L802.14,508.29 L803.86,508.50 L805.58,508.70 L807.30,508.90 L809.02,509.10 L810.73,509.29 L812.45,509.49 L814.17,509.68 L815.89,509.86 L817.61,510.05 L819.33,510.23 L821.05,510.42 L822.76,510.60 L824.48,510.78 L826.20,510.95 L827.92,511.13 L829.64,511.30 L831.36,511.47 L833.08,511.64 L834.79,511.80 L836.51,511.97 L838.23,512.13 L839.95,512.29 L841.67,512.45 L843.39,512.61 L845.11,512.76 L846.83,512.92 L848.54,513.07 L850.26,513.22 L851.98,513.37 L853.70,513.52 L855.42,513.67 L857.14,513.81 L858.86,513.96 L860.57,514.10 L862.29,514.24 L864.01,514.38 L865.73,514.52 L867.45,514.65 L869.17,514.79 L870.89,514.92 L872.60,515.06 L874.32,515.19 L876.04,515.32 L877.76,515.45 L879.48,515.58 L881.20,515.70 L882.92,515.83 L884.63,515.95 L886.35,516.08 L888.07,516.20 L889.79,516.32 L891.51,516.44 L893.23,516.56 L894.95,516.68 L896.66,516.79 L898.38,516.91 L900.10,517.03 L901.82,517.14 L903.54,517.25 L905.26,517.37 L906.98,517.48 L908.70,517.59 L910.41,517.70 L912.13,517.81 L913.85,517.91 L915.57,518.02 L917.29,518.13 L919.01,518.23 L920.73,518.34 L922.44,518.44 L924.16,518.55 L925.88,518.65 L927.60,518.75 L929.32,518.85 L931.04,518.95 L932.76,519.05 L934.47,519.15 L936.19,519.25 L937.91,519.34 L939.63,519.44 L941.35,519.54 L943.07,519.63 L944.79,519.73 L946.50,519.82 L948.22,519.92 L949.94,520.01 L951.66,520.10 L953.38,520.19 L955.10,520.28 L956.82,520.38 L958.53,520.47 L960.25,520.56 L961.97,520.64" stroke="#ff6a00"/>
<path d="M137.50,564.50 L558.90,564.50 L558.94,564.17 L559.03,563.60 L559.14,562.91 L559.27,562.16 L559.42,561.38 L559.59,560.59 L559.77,559.82 L559.96,559.07 L560.17,558.34 L560.38,557.63 L560.61,556.95 L560.85,556.28 L561.10,555.63 L561.36,554.99 L561.63,554.36 L561.91,553.74 L562.19,553.11 L562.49,552.48 L562.79,551.85 L563.10,551.22 L563.42,550.57 L563.75,549.92 L564.09,549.26 L564.43,548.59 L564.78,547.92 L565.13,547.23 L565.50,546.54 L565.87,545.84 L566.24,545.13 L566.63,544.41 L567.02,543.68 L567.41,542.95 L567.82,542.21 L568.22,541.46 L568.64,540.71 L569.06,539.94 L569.49,539.18 L569.92,538.40 L570.36,537.62 L570.80,536.84 L571.25,536.05 L571.70,535.25 L572.16,534.45 L572.63,533.65 L573.10,532.84 L573.57,532.02 L574.06,531.20 L574.54,530.38 L575.03,529.55 L575.53,528.72 L576.03,527.88 L576.54,527.04 L577.05,526.20 L577.57,525.36 L578.09,524.52 L578.61,523.67 L579.14,522.83 L579.68,521.98 L580.22,521.13 L580.76,520.28 L581.31,519.43 L581.86,518.57 L582.42,517.72 L582.98,516.86 L583.55,516.01 L584.12,515.15 L584.70,514.29 L585.28,513.43 L585.86,512.57 L586.45,511.71 L587.04,510.85 L587.64,509.99 L588.24,509.13 L588.84,508.27 L589.45,507.41 L590.07,506.54 L590.68,505.68 L591.31,504.82 L591.93,503.95 L592.56,503.09 L593.19,502.22 L593.83,501.36 L594.47,500.49 L595.12,499.63 L595.76,498.76 L596.42,497.89 L597.07,497.02 L597.73,496.15 L598.40,495.28 L599.07,494.41 L599.74,493.54 L600.41,492.67 L601.09,491.80 L601.77,490.93 L602.46,490.06 L603.15,489.20 L603.84,488.33 L604.54,487.47 L605.24,486.61 L605.94,485.75 L606.65,484.89 L607.36,484.03 L608.08,483.17 L608.79,482.32 L609.51,481.47 L610.24,480.62 L610.97,479.77 L611.70,478.93 L612.43,478.08 L613.17,477.24 L613.91,476.40 L614.66,475.57 L615.41,474.73 L616.16,473.90 L616.92,473.07 L617.67,472.24 L618.44,471.41 L619.20,470.59 L619.97,469.76 L621.69,467.95 L623.41,466.16 L625.12,464.39 L626.84,462.66 L628.56,460.94 L630.28,459.26 L632.00,457.60 L633.72,455.96 L635.44,454.35 L637.15,452.77 L638.87,451.20 L640.59,449.66 L642.31,448.14 L644.03,446.64 L645.75,445.16 L647.47,443.69 L649.19,442.25 L650.90,440.83 L652.62,439.42 L654.34,438.04 L656.06,436.67 L657.78,435.32 L659.50,433.99 L661.22,432.68 L662.93,431.38 L664.65,430.10 L666.37,428.84 L668.09,427.59 L669.81,426.36 L671.53,425.15 L673.25,423.96 L674.96,422.78 L676.68,421.61 L678.40,420.47 L680.12,419.34 L681.84,418.23 L683.56,417.14 L685.28,416.07 L686.99,415.01 L688.71,413.96 L690.43,412.93 L692.15,411.91 L693.87,410.90 L695.59,409.89 L697.31,408.90 L699.02,407.91 L700.74,406.93 L702.46,405.95 L704.18,404.98 L705.90,404.02 L707.62,403.06 L709.34,402.11 L711.06,401.16 L712.77,400.23 L714.49,399.30 L716.21,398.37 L717.93,397.46 L719.65,396.55 L721.37,395.65 L723.09,394.76 L724.80,393.88 L726.52,393.01 L728.24,392.14 L729.96,391.29 L731.68,390.44 L733.40,389.60 L735.12,388.78 L736.83,387.96 L738.55,387.16 L740.27,386.36 L741.99,385.58 L743.71,384.80 L745.43,384.03 L747.15,383.26 L748.86,382.51 L750.58,381.76 L752.30,381.02 L754.02,380.29 L755.74,379.57 L757.46,378.85 L759.18,378.14 L760.89,377.43 L762.61,376.74 L764.33,376.05 L766.05,375.37 L767.77,374.69 L769.49,374.02 L771.21,373.36 L772.93,372.70 L774.64,372.05 L776.36,371.41 L778.08,370.77 L779.80,370.14 L781.52,369.51 L783.24,368.90 L784.96,368.28 L786.67,367.67 L788.39,367.07 L790.11,366.48 L791.83,365.94 L793.55,365.40 L795.27,364.86 L796.99,364.34 L798.70,363.82 L800.42,363.30 L802.14,362.79 L803.86,362.28 L805.58,361.78 L807.30,361.29 L809.02,360.80 L810.73,360.32 L812.45,359.84 L814.17,359.37 L815.89,358.90 L817.61,358.44 L819.33,357.98 L821.05,357.52 L822.76,357.08 L824.48,356.63 L826.20,356.19 L827.92,355.76 L829.64,355.33 L831.36,354.90 L833.08,354.48 L834.79,354.07 L836.51,353.66 L838.23,353.25 L839.95,352.85 L841.67,352.45 L843.39,352.06 L845.11,351.67 L846.83,351.28 L848.54,350.90 L850.26,350.52 L851.98,350.15 L853.70,349.78 L855.42,349.41 L857.14,349.05 L858.86,348.69 L860.57,348.34 L862.29,347.99 L864.01,347.65 L865.73,347.30 L867.45,346.96 L869.17,346.63 L870.89,346.30 L872.60,345.97 L874.32,345.64 L876.04,345.32 L877.76,345.01 L879.48,344.69 L881.20,344.38 L882.92,344.07 L884.63,343.77 L886.35,343.47 L888.07,343.17 L889.79,342.87 L891.51,342.58 L893.23,342.29 L894.95,342.01 L896.66,341.73 L898.38,341.45 L900.10,341.17 L901.82,340.90 L903.54,340.63 L905.26,340.36 L906.98,340.10 L908.70,339.83 L910.41,339.57 L912.13,339.32 L913.85,339.07 L915.57,338.81 L917.29,338.57 L919.01,338.32 L920.73,338.08 L922.44,337.84 L924.16,337.60 L925.88,337.36 L927.60,337.13 L929.32,336.90 L931.04,336.67 L932.76,336.45 L934.47,336.23 L936.19,336.01 L937.91,335.79 L939.63,335.57 L941.35,335.36 L943.07,335.15 L944.79,334.94 L946.50,334.73 L948.22,334.53 L949.94,334.32 L951.66,334.12 L953.38,333.93 L955.10,333.73 L956.82,333.54 L958.53,333.34 L960.25,333.15 L961.97,332.97" stroke="#a900ff"/>
<path d="M137.50,564.50 L558.90,564.50 L558.94,564.12 L559.03,563.44 L559.14,562.56 L559.27,561.52 L559.42,560.35 L559.59,559.07 L559.77,557.68 L559.96,556.20 L560.17,554.63 L560.38,552.99 L560.61,551.28 L560.85,549.50 L561.10,547.66 L561.36,545.77 L561.63,543.83 L561.91,541.84 L562.19,539.81 L562.49,537.74 L562.79,535.63 L563.10,533.49 L563.42,531.32 L563.75,529.12 L564.09,526.89 L564.43,524.64 L564.78,522.38 L565.13,520.09 L565.50,517.79 L565.87,515.47 L566.24,513.14 L566.63,510.79 L567.02,508.44 L567.41,506.08 L567.82,503.71 L568.22,501.34 L568.64,498.96 L569.06,496.58 L569.49,494.20 L569.92,491.82 L570.36,489.43 L570.80,487.06 L571.25,484.68 L571.70,482.32 L572.16,479.96 L572.63,477.60 L573.10,475.26 L573.57,472.92 L574.06,470.59 L574.54,468.27 L575.03,465.96 L575.53,463.66 L576.03,461.36 L576.54,459.08 L577.05,456.81 L577.57,454.55 L578.09,452.30 L578.61,450.06 L579.14,447.83 L579.68,445.62 L580.22,443.41 L580.76,441.21 L581.31,439.04 L581.86,436.87 L582.42,434.73 L582.98,432.59 L583.55,430.47 L584.12,428.37 L584.70,426.28 L585.28,424.21 L585.86,422.15 L586.45,420.10 L587.04,418.06 L587.64,416.04 L588.24,414.03 L588.84,412.04 L589.45,410.05 L590.07,408.08 L590.68,406.11 L591.31,404.16 L591.93,402.22 L592.56,400.28 L593.19,398.36 L593.83,396.45 L594.47,394.55 L595.12,392.67 L595.76,390.81 L596.42,388.96 L597.07,387.12 L597.73,385.29 L598.40,383.47 L599.07,381.66 L599.74,379.85 L600.41,378.05 L601.09,376.25 L601.77,374.46 L602.46,372.66 L603.15,370.86 L603.84,369.06 L604.54,367.25 L605.24,365.44 L605.94,363.63 L606.65,361.83 L607.36,360.03 L608.08,358.25 L608.79,356.47 L609.51,354.70 L610.24,352.94 L610.97,351.18 L611.70,349.43 L612.43,347.69 L613.17,345.96 L613.91,344.24 L614.66,342.52 L615.41,340.81 L616.16,339.10 L616.92,337.41 L617.67,335.72 L618.44,334.04 L619.20,332.36 L619.97,330.70 L621.69,327.02 L623.41,323.41 L625.12,319.87 L626.84,316.39 L628.56,312.98 L630.28,309.63 L632.00,306.34 L633.72,303.10 L635.44,299.92 L637.15,296.79 L638.87,293.71 L640.59,290.67 L642.31,287.68 L644.03,284.74 L645.75,281.85 L647.47,279.00 L649.19,276.19 L650.90,273.42 L652.62,270.70 L654.34,268.02 L656.06,265.37 L657.78,262.77 L659.50,260.20 L661.22,257.68 L662.93,255.19 L664.65,252.74 L666.37,250.32 L668.09,247.95 L669.81,245.61 L671.53,243.31 L673.25,241.04 L674.96,238.81 L676.68,236.60 L678.40,234.43 L680.12,232.29 L681.84,230.18 L683.56,228.10 L685.28,226.05 L686.99,224.02 L688.71,222.02 L690.43,220.05 L692.15,218.10 L693.87,216.17 L695.59,214.26 L697.31,212.38 L699.02,210.51 L700.74,208.67 L702.46,206.84 L704.18,205.04 L705.90,203.25 L707.62,201.48 L709.34,199.73 L711.06,198.00 L712.77,196.30 L714.49,194.60 L716.21,192.93 L717.93,191.28 L719.65,189.64 L721.37,188.03 L723.09,186.43 L724.80,184.85 L726.52,183.29 L728.24,181.75 L729.96,180.23 L731.68,178.72 L733.40,177.23 L735.12,175.77 L736.83,174.32 L738.55,172.88 L740.27,171.47 L741.99,170.07 L743.71,168.70 L745.43,167.34 L747.15,166.00 L748.86,164.68 L750.58,163.37 L752.30,162.09 L754.02,160.82 L755.74,159.56 L757.46,158.32 L759.18,157.09 L760.89,155.88 L762.61,154.68 L764.33,153.49 L766.05,152.32 L767.77,151.16 L769.49,150.02 L771.21,148.89 L772.93,147.77 L774.64,146.67 L776.36,145.58 L778.08,144.51 L779.80,143.44 L781.52,142.40 L783.24,141.36 L784.96,140.34 L786.67,139.33 L788.39,138.34 L790.11,137.36 L791.83,136.40 L793.55,135.44 L795.27,134.50 L796.99,133.58 L798.70,132.67 L800.42,131.77 L802.14,130.88 L803.86,130.01 L805.58,129.14 L807.30,128.29 L809.02,127.44 L810.73,126.60 L812.45,125.77 L814.17,124.96 L815.89,124.15 L817.61,123.35 L819.33,122.56 L821.05,121.77 L822.76,121.00 L824.48,120.24 L826.20,119.48 L827.92,118.73 L829.64,117.99 L831.36,117.26 L833.08,116.53 L834.79,115.81 L836.51,115.10 L838.23,114.39 L839.95,113.69 L841.67,112.99 L843.39,112.30 L845.11,111.62 L846.83,110.94 L848.54,110.27 L850.26,109.60 L851.98,108.94 L853.70,108.29 L855.42,107.64 L857.14,107.00 L858.86,106.37 L860.57,105.74 L862.29,105.12 L864.01,104.50 L865.73,103.89 L867.45,103.29 L869.17,102.69 L870.89,102.10 L872.60,101.52 L874.32,100.94 L876.04,100.37 L877.76,99.80 L879.48,99.24 L881.20,98.68 L882.92,98.13 L884.63,97.58 L886.35,97.04 L888.07,96.50 L889.79,95.96 L891.51,95.44 L893.23,94.91 L894.95,94.39 L896.66,93.87 L898.38,93.36 L900.10,92.85 L901.82,92.35 L903.54,91.84 L905.26,91.34 L906.98,90.85 L908.70,90.36 L910.41,89.87 L912.13,89.37 L913.85,88.89 L915.57,88.40 L917.29,87.91 L919.01,87.43 L920.73,86.95 L922.44,86.46 L924.16,85.99 L925.88,85.51 L927.60,85.04 L929.32,84.57 L931.04,84.11 L932.76,83.64 L934.47,83.18 L936.19,82.73 L937.91,82.28 L939.63,81.83 L941.35,81.39 L943.07,80.95 L944.79,80.51 L946.50,80.08 L948.22,79.65 L949.94,79.22 L951.66,78.79 L953.38,78.37 L955.10,77.95 L956.82,77.53 L958.53,77.12 L960.25,76.70 L961.97,76.29" stroke="#009a00"/>

</g>
<text class="tk" x="106.6" y="574.80" text-anchor="end">0</text>
<text class="tk" x="106.6" y="466.70" text-anchor="end">0.5</text>
<text class="tk" x="106.6" y="358.60" text-anchor="end">1</text>
<text class="tk" x="106.6" y="250.50" text-anchor="end">1.5</text>
<text class="tk" x="106.6" y="142.40" text-anchor="end">2</text>
<text class="tk" x="106.6" y="34.30" text-anchor="end">2.5</text>
<text class="tk" x="138.40" y="617" text-anchor="middle">0</text>
<text class="tk" x="260.54" y="617" text-anchor="middle">4</text>
<text class="tk" x="382.69" y="617" text-anchor="middle">8</text>
<text class="tk" x="504.83" y="617" text-anchor="middle">12</text>
<text class="tk" x="626.98" y="617" text-anchor="middle">16</text>
<text class="tk" x="749.12" y="617" text-anchor="middle">20</text>
<text class="tk" x="871.26" y="617" text-anchor="middle">24</text>
<text class="tk" x="993.41" y="617" text-anchor="middle">28</text>
<text class="tt" x="564.6" y="667.8" text-anchor="middle" textLength="294.8" lengthAdjust="spacingAndGlyphs">Axial position (mm)</text>
<g transform="translate(39.6,466) rotate(-90)">
<text class="ty" transform="translate(-1.79,0) scale(1.0223,1)">Concentration</text>
<text class="ty" transform="translate(223.50,0) scale(0.9396,1)">(%)</text>
</g>
<text transform="translate(290.64,290.60) scale(0.8432,1)" font-size="34.6" font-weight="bold" fill="#e00000">CH</text>
<text transform="translate(332.83,298.20) scale(0.9959,1)" font-size="22.9" font-weight="bold" fill="#e00000">4</text>
<text transform="translate(213.30,401.50) scale(0.9451,1)" font-size="34.6" font-weight="bold" fill="#00849c">O</text>
<text transform="translate(238.46,409.00) scale(0.9888,1)" font-size="22.9" font-weight="bold" fill="#00849c">2</text>
<text transform="translate(435.43,434.80) scale(0.9136,1)" font-size="34.6" font-weight="bold" fill="#ff6a00">H</text>
<text transform="translate(458.16,442.70) scale(0.9888,1)" font-size="22.9" font-weight="bold" fill="#ff6a00">2</text>
<text transform="translate(471.00,434.80) scale(0.9451,1)" font-size="34.6" font-weight="bold" fill="#ff6a00">O</text>
<text transform="translate(611.63,536.00) scale(0.8510,1)" font-size="34.6" font-weight="bold" fill="#0000ff">CO</text>
<text transform="translate(655.87,543.20) scale(0.9708,1)" font-size="22.9" font-weight="bold" fill="#0000ff">2</text>
<text transform="translate(844.22,327.80) scale(0.8592,1)" font-size="34.6" font-weight="bold" fill="#a900ff">CO</text>
<text transform="translate(777.21,116.10) scale(0.9235,1)" font-size="34.6" font-weight="bold" fill="#009a00">H</text>
<text transform="translate(801.68,124.00) scale(0.9618,1)" font-size="22.9" font-weight="bold" fill="#009a00">2</text>
</svg></body></html>
